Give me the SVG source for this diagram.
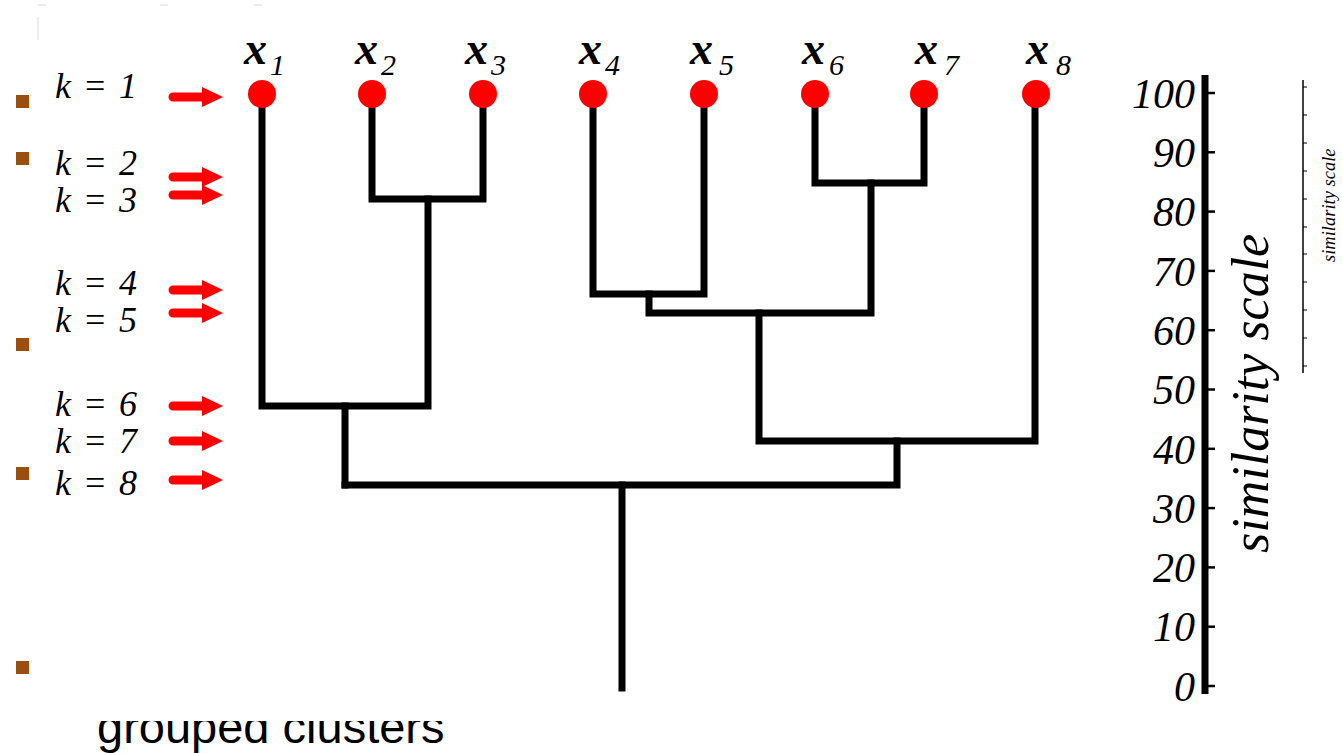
<svg xmlns="http://www.w3.org/2000/svg" width="1342" height="753" viewBox="0 0 1342 753">
<style>
.bg{fill:#ffffff}
.bul{fill:#9b4f0f}
.kl{font-style:italic;font-size:36px;fill:#000}
.xl{font-style:italic;font-weight:bold;font-size:46px;fill:#000}
.sub{font-weight:normal;font-size:30px}
.tk{font-style:italic;font-size:42px;fill:#000;text-anchor:end}
.ax{font-style:italic;font-size:52px;fill:#000}
.axs{font-style:italic;font-size:18.5px;fill:#000}
.den{fill:none;stroke:#000;stroke-width:7;stroke-linecap:square;stroke-linejoin:miter}
.node{fill:#ff0000}
.arr{fill:#ff0000}
.faint{stroke:#e6e6e6;stroke-width:1.5;fill:none}
</style>
<defs>
<path id="arrow" d="M0,-4.5 H29 V-10 L50,0 L29,10 V4.5 H0 A4.5,4.5 0 0 1 0,-4.5 Z"/>
<clipPath id="gcclip"><rect x="0" y="721" width="1342" height="40"/></clipPath>
</defs>
<rect class="bg" x="0" y="0" width="1342" height="753"/>

<g id="artifacts">
<path class="faint" d="M38,17 V40 M38,5 H46 M160,5 H168 M254,5 H262"/>
</g>

<g id="bullets">
<rect class="bul" x="16" y="95" width="13" height="13"/>
<rect class="bul" x="16" y="152" width="13" height="13"/>
<rect class="bul" x="16" y="338" width="13" height="13"/>
<rect class="bul" x="16" y="467" width="13" height="13"/>
<rect class="bul" x="16" y="661" width="13" height="13"/>
</g>

<g id="k-labels" font-family="Liberation Serif, DejaVu Serif, serif">
<text class="kl" x="55" y="98" textLength="82" xml:space="preserve">k = 1</text>
<text class="kl" x="55" y="175" textLength="82" xml:space="preserve">k = 2</text>
<text class="kl" x="55" y="212" textLength="82" xml:space="preserve">k = 3</text>
<text class="kl" x="55" y="295" textLength="82" xml:space="preserve">k = 4</text>
<text class="kl" x="55" y="332" textLength="82" xml:space="preserve">k = 5</text>
<text class="kl" x="55" y="416" textLength="82" xml:space="preserve">k = 6</text>
<text class="kl" x="55" y="453" textLength="82" xml:space="preserve">k = 7</text>
<text class="kl" x="55" y="495" textLength="82" xml:space="preserve">k = 8</text>
</g>

<g id="k-arrows" class="arr">
<use href="#arrow" x="173" y="97"/>
<use href="#arrow" x="173" y="177"/>
<use href="#arrow" x="173" y="195"/>
<use href="#arrow" x="173" y="290"/>
<use href="#arrow" x="173" y="313"/>
<use href="#arrow" x="173" y="406"/>
<use href="#arrow" x="173" y="441"/>
<use href="#arrow" x="173" y="480"/>
</g>

<g id="connectors">
<path class="den" d="M262,95 V406 H428 V199"/>
<path class="den" d="M372,95 V199 H483 V95"/>
<path class="den" d="M345,406 V485"/>
<path class="den" d="M593,95 V294 H704 V95"/>
<path class="den" d="M649,294 V313 H871 V183"/>
<path class="den" d="M815,95 V183 H924 V95"/>
<path class="den" d="M759,313 V441 H1035 V95"/>
<path class="den" d="M897,441 V485 H345"/>
<path class="den" d="M622,485 V688"/>
</g>

<g font-family="Liberation Serif, DejaVu Serif, serif">
<g id="node-x1"><circle class="node" cx="262" cy="94" r="14"/><text class="xl" x="244" y="64">x<tspan class="sub" dx="3" dy="11">1</tspan></text></g>
<g id="node-x2"><circle class="node" cx="372" cy="94" r="14"/><text class="xl" x="355" y="64">x<tspan class="sub" dx="3" dy="11">2</tspan></text></g>
<g id="node-x3"><circle class="node" cx="483" cy="94" r="14"/><text class="xl" x="465" y="64">x<tspan class="sub" dx="3" dy="11">3</tspan></text></g>
<g id="node-x4"><circle class="node" cx="593" cy="94" r="14"/><text class="xl" x="579" y="64">x<tspan class="sub" dx="3" dy="11">4</tspan></text></g>
<g id="node-x5"><circle class="node" cx="704" cy="94" r="14"/><text class="xl" x="690" y="64">x<tspan class="sub" dx="6" dy="11">5</tspan></text></g>
<g id="node-x6"><circle class="node" cx="815" cy="94" r="14"/><text class="xl" x="802" y="64">x<tspan class="sub" dx="4" dy="11">6</tspan></text></g>
<g id="node-x7"><circle class="node" cx="924" cy="94" r="14"/><text class="xl" x="915" y="64">x<tspan class="sub" dx="6" dy="11">7</tspan></text></g>
<g id="node-x8"><circle class="node" cx="1036" cy="94" r="14"/><text class="xl" x="1026" y="64">x<tspan class="sub" dx="7" dy="11">8</tspan></text></g>
</g>

<g id="scale-axis" font-family="Liberation Serif, DejaVu Serif, serif">
<line x1="1205" y1="75" x2="1205" y2="694" stroke="#000" stroke-width="7"/>
<g stroke="#000" stroke-width="2.5">
<line x1="1208" y1="93" x2="1215" y2="93"/>
<line x1="1208" y1="152.3" x2="1215" y2="152.3"/>
<line x1="1208" y1="211.6" x2="1215" y2="211.6"/>
<line x1="1208" y1="270.9" x2="1215" y2="270.9"/>
<line x1="1208" y1="330.2" x2="1215" y2="330.2"/>
<line x1="1208" y1="389.5" x2="1215" y2="389.5"/>
<line x1="1208" y1="448.8" x2="1215" y2="448.8"/>
<line x1="1208" y1="508.1" x2="1215" y2="508.1"/>
<line x1="1208" y1="567.4" x2="1215" y2="567.4"/>
<line x1="1208" y1="626.7" x2="1215" y2="626.7"/>
<line x1="1208" y1="686" x2="1215" y2="686"/>
</g>
<text class="tk" x="1195" y="108">100</text>
<text class="tk" x="1195" y="167">90</text>
<text class="tk" x="1195" y="226">80</text>
<text class="tk" x="1195" y="286">70</text>
<text class="tk" x="1195" y="345">60</text>
<text class="tk" x="1195" y="404">50</text>
<text class="tk" x="1195" y="464">40</text>
<text class="tk" x="1195" y="523">30</text>
<text class="tk" x="1195" y="582">20</text>
<text class="tk" x="1195" y="641">10</text>
<text class="tk" x="1195" y="701">0</text>
<text class="ax" transform="translate(1268,553) rotate(-90)">similarity scale</text>
</g>

<g id="small-scale" font-family="Liberation Serif, DejaVu Serif, serif">
<line x1="1303" y1="80" x2="1303" y2="373" stroke="#000" stroke-width="1.5"/>
<path stroke="#000" stroke-width="1.2" d="M1303,87 h4 M1303,115 h4 M1303,143 h4 M1303,171 h4 M1303,199 h4 M1303,227 h4 M1303,254 h4 M1303,282 h4 M1303,310 h4 M1303,338 h4 M1303,366 h4"/>
<text class="axs" transform="translate(1335,262) rotate(-90)">similarity scale</text>
</g>

<g id="caption">
<text font-family="Liberation Sans, Arial, sans-serif" font-size="47" fill="#000" x="97" y="743" clip-path="url(#gcclip)">grouped clusters</text>
</g>
</svg>
